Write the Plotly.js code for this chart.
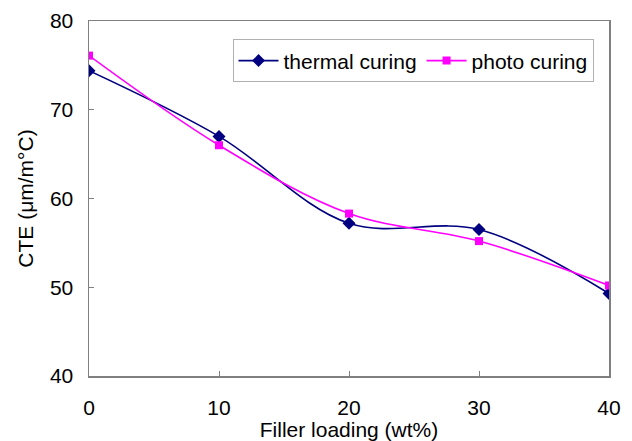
<!DOCTYPE html>
<html>
<head>
<meta charset="utf-8">
<script src="https://cdn.plot.ly/plotly-3.0.1.min.js"></script>
<style>html,body{margin:0;padding:0;background:#fff;}#chart{width:632px;height:441px;}</style>
</head>
<body>
<div id="chart"></div>
<script>
const fillerLoading = [0, 10, 20, 30, 40];
const thermalCuring = [74.4, 67.0, 57.2, 56.5, 49.3];
const photoCuring = [76.1, 66.0, 58.3, 55.2, 50.2];
const xTicks = [0, 10, 20, 30, 40];
const yTicks = [40, 50, 60, 70, 80];

const fontFam = 'Liberation Sans, Arial, sans-serif';
const traces = [
  {x: fillerLoading, y: thermalCuring, name: 'thermal curing', mode: 'lines+markers',
   line: {color: '#000080', width: 1.6, shape: 'spline', smoothing: 1},
   marker: {symbol: 'diamond', size: 10, color: '#000080'}},
  {x: fillerLoading, y: photoCuring, name: 'photo curing', mode: 'lines+markers',
   line: {color: '#FF00FF', width: 1.6, shape: 'spline', smoothing: 1},
   marker: {symbol: 'square', size: 8, color: '#FF00FF'}}
];
const layout = {
  width: 632, height: 441,
  margin: {l: 89, r: 23, t: 21, b: 65},
  paper_bgcolor: '#fff', plot_bgcolor: '#fff',
  font: {family: fontFam, size: 21, color: '#000'},
  showlegend: true,
  legend: {x: 0.276, y: 0.948, xanchor: 'left', yanchor: 'top', orientation: 'h',
    bordercolor: '#b0b0b0', borderwidth: 1, font: {size: 21, family: fontFam},
    bgcolor: '#fff', itemwidth: 40, tracegroupgap: 0},
  xaxis: {range: [0, 40], tickvals: xTicks, ticks: 'inside', ticklen: 5, tickcolor: '#808080',
    showline: true, linecolor: '#808080', linewidth: 1.5, mirror: true, showgrid: false, zeroline: false,
    ticklabelstandoff: 12,
    tickfont: {size: 21}, title: {text: 'Filler loading (wt%)', font: {size: 21}, standoff: 4}},
  yaxis: {range: [40, 80], tickvals: yTicks, ticks: 'inside', ticklen: 5, tickcolor: '#808080',
    showline: true, linecolor: '#808080', linewidth: 1.5, mirror: true, showgrid: false, zeroline: false,
    ticklabelstandoff: 10,
    tickfont: {size: 21}, title: {text: 'CTE (μm/m°C)', font: {size: 21}, standoff: 10}}
};
Plotly.newPlot('chart', traces, layout, {displayModeBar: false, staticPlot: true});
</script>
</body>
</html>
